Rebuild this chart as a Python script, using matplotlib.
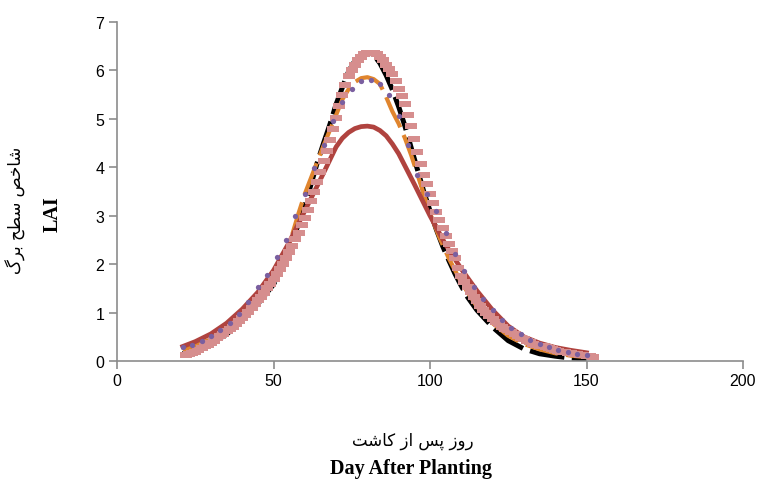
import matplotlib
matplotlib.use("Agg")
import matplotlib.pyplot as plt

# days after planting / LAI
black_days = [21, 25, 30, 35, 40, 45, 50, 55, 58, 60, 62, 64, 66, 68, 70, 72, 74, 76, 78, 80,
              82, 84, 86, 88, 90, 92, 94, 96, 98, 100, 102, 104, 106, 108, 110, 112, 115, 120,
              125, 130, 135, 140, 145, 150]
black_lai = [0.15, 0.22, 0.36, 0.55, 0.85, 1.18, 1.58, 2.22, 2.85, 3.20, 3.65, 4.10, 4.50, 4.88,
             5.30, 5.65, 5.98, 6.20, 6.33, 6.37, 6.32, 6.15, 5.90, 5.60, 5.25, 4.85, 4.40, 3.95,
             3.50, 3.10, 2.72, 2.38, 2.08, 1.80, 1.55, 1.32, 1.05, 0.70, 0.42, 0.25, 0.15, 0.10,
             0.06, 0.04]

orange_days = [21, 25, 30, 35, 40, 45, 50, 55, 58, 60, 63, 66, 69, 72, 75, 78, 80, 82, 84, 86,
               88, 90, 92, 94, 96, 98, 100, 103, 106, 110, 115, 120, 125, 130, 135, 140, 145, 150]
orange_lai = [0.22, 0.32, 0.45, 0.62, 0.92, 1.30, 1.72, 2.40, 3.05, 3.45, 3.95, 4.45, 4.92, 5.40,
              5.72, 5.84, 5.86, 5.82, 5.72, 5.45, 5.15, 4.90, 4.60, 4.25, 3.85, 3.45, 3.05, 2.55,
              2.12, 1.62, 1.12, 0.78, 0.52, 0.35, 0.24, 0.16, 0.11, 0.08]

red_days = [21, 25, 30, 35, 40, 45, 50, 55, 60, 65, 70, 72, 74, 76, 78, 80, 82, 84, 86, 88, 90,
            95, 100, 105, 110, 115, 120, 125, 130, 135, 140, 145, 150]
red_lai = [0.30, 0.40, 0.56, 0.78, 1.07, 1.42, 1.87, 2.45, 3.10, 3.75, 4.42, 4.60, 4.72, 4.80,
           4.84, 4.85, 4.83, 4.76, 4.65, 4.48, 4.28, 3.65, 3.00, 2.40, 1.90, 1.45, 1.05, 0.72,
           0.50, 0.37, 0.28, 0.22, 0.17]

purple_days = [21, 24, 27, 30, 33, 36, 39, 42, 45, 48, 51, 54, 57, 60, 63, 66, 69, 72, 75, 78,
               81, 84, 87, 90, 93, 96, 99, 102, 105, 108, 111, 114, 117, 120, 123, 126, 129, 132,
               135, 138, 141, 144, 147, 150]
purple_lai = [0.28, 0.33, 0.42, 0.52, 0.64, 0.78, 0.98, 1.22, 1.52, 1.78, 2.15, 2.50, 3.00, 3.45,
              3.98, 4.45, 4.95, 5.35, 5.62, 5.78, 5.80, 5.72, 5.50, 5.05, 4.45, 3.85, 3.45, 3.10,
              2.65, 2.20, 1.85, 1.52, 1.28, 1.05, 0.85, 0.68, 0.55, 0.44, 0.35, 0.29, 0.23, 0.19,
              0.15, 0.12]

pink_days = list(range(22, 153))
pink_lai = [0.12, 0.14, 0.16, 0.19, 0.22, 0.26, 0.30, 0.34, 0.38, 0.42,
            0.47, 0.51, 0.56, 0.61, 0.66, 0.71, 0.76, 0.82, 0.88, 0.95,
            1.02, 1.09, 1.17, 1.25, 1.33, 1.41, 1.50, 1.60, 1.70, 1.80,
            1.90, 2.01, 2.12, 2.25, 2.38, 2.51, 2.65, 2.80, 2.95, 3.12,
            3.30, 3.50, 3.70, 3.91, 4.12, 4.34, 4.56, 4.80, 5.02, 5.27,
            5.50, 5.70, 5.88, 6.01, 6.12, 6.21, 6.28, 6.33, 6.36, 6.37,
            6.36, 6.33, 6.28, 6.21, 6.12, 6.03, 5.92, 5.78, 5.62, 5.47,
            5.30, 5.08, 4.85, 4.58, 4.32, 4.07, 3.85, 3.65, 3.45, 3.26,
            3.08, 2.91, 2.75, 2.58, 2.42, 2.27, 2.12, 1.93, 1.75, 1.63,
            1.52, 1.42, 1.32, 1.23, 1.14, 1.06, 0.99, 0.92, 0.86, 0.81,
            0.76, 0.71, 0.67, 0.63, 0.59, 0.55, 0.52, 0.48, 0.45, 0.42,
            0.39, 0.36, 0.34, 0.32, 0.30, 0.28, 0.26, 0.24, 0.22, 0.20,
            0.19, 0.18, 0.17, 0.16, 0.15, 0.14, 0.13, 0.12, 0.11, 0.10,
            0.09]

x_ticks = [0, 50, 100, 150, 200]
y_ticks = [0, 1, 2, 3, 4, 5, 6, 7]

# Persian labels in visual order with Arabic presentation forms
# (matplotlib does no Arabic shaping on its own)
xlabel_fa = "\ufe96\ufeb7\ufe8e\ufb90 \ufeaf\ufe8d \ufeb2\ufb58 \ufeaf\ufeed\ufead"  # روز پس از کاشت
ylabel_fa = "\ufb92\ufeae\ufe91 \ufea2\ufec4\ufeb3 \ufeba\ufea7\ufe8e\ufeb7"  # شاخص سطح برگ

fig = plt.figure(figsize=(7.62, 4.81), dpi=100)
ax = fig.add_axes([117 / 762, 119 / 481, 626 / 762, 339 / 481])

ax.plot(black_days, black_lai, color='black', lw=3.6, dashes=(7, 1.5), zorder=2)
ax.plot(orange_days, orange_lai, color='#E0852E', lw=3.0, dashes=(8, 2), zorder=3)
ax.plot(red_days, red_lai, color='#B0433F', lw=3.4, zorder=4)
rect = [(-1, -0.55), (1, -0.55), (1, 0.55), (-1, 0.55), (-1, -0.55)]
ax.plot(pink_days, pink_lai, ls='none', marker=rect, markersize=8.5, mew=0,
        color='#D68E8E', zorder=5)
ax.plot(purple_days, purple_lai, ls='none', marker='o', markersize=3.8, mew=0,
        color='#7A5FA0', zorder=6)

ax.set_xlim(0, 200)
ax.set_ylim(0, 7)
ax.set_xticks(x_ticks)
ax.set_yticks(y_ticks)
for s in ['top', 'right']:
    ax.spines[s].set_visible(False)
for s in ['left', 'bottom']:
    ax.spines[s].set_color('#8C8C8C')
    ax.spines[s].set_linewidth(1.2)
ax.tick_params(colors='#8C8C8C', length=6, width=1.2, labelcolor='black',
               labelsize=11.5, pad=3)
for lab in ax.get_xticklabels() + ax.get_yticklabels():
    lab.set_family('Liberation Sans')

fig.text(413 / 762, 1 - 441 / 481, xlabel_fa, ha='center', va='center',
         fontsize=12, family=['DejaVu Sans'])
fig.text(411 / 762, 2 / 481, 'Day After Planting', ha='center', va='bottom',
         fontsize=14.5, fontweight='bold', family='Liberation Serif')
fig.text(16 / 762, 1 - 210 / 481, ylabel_fa, ha='center', va='center', rotation=90,
         fontsize=12, family=['DejaVu Sans'])
fig.text(53 / 762, 1 - 214 / 481, 'LAI', ha='center', va='center', rotation=90,
         fontsize=14.5, fontweight='bold', family='Liberation Serif')

fig.savefig('out.png', dpi=100)
